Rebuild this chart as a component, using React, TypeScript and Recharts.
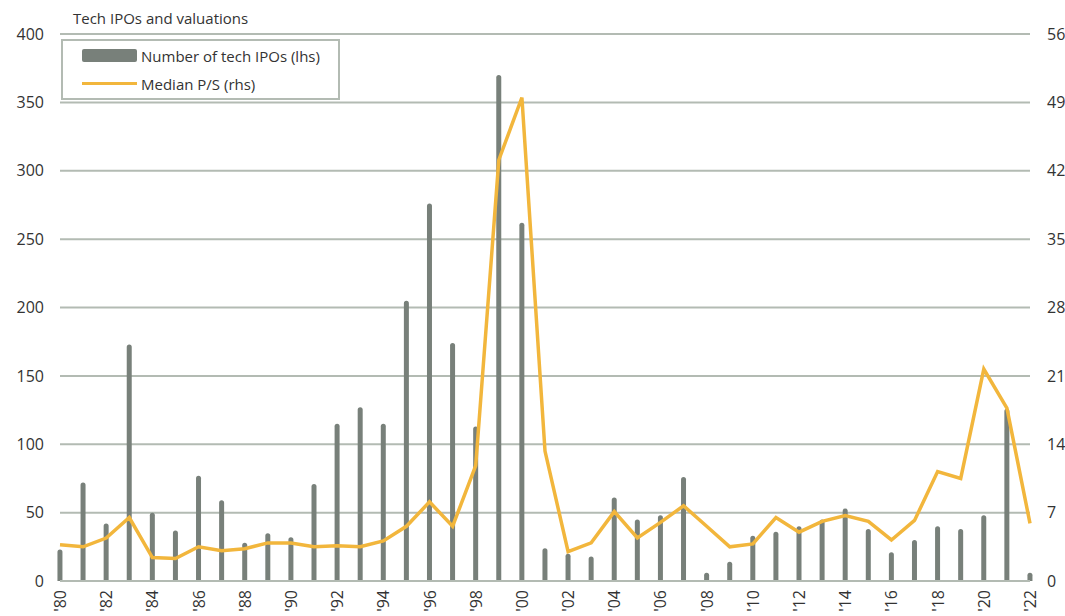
import { ComposedChart, Bar, Line, XAxis, YAxis, CartesianGrid } from 'recharts'

const years = [
  1980, 1981, 1982, 1983, 1984, 1985, 1986, 1987, 1988, 1989, 1990,
  1991, 1992, 1993, 1994, 1995, 1996, 1997, 1998, 1999, 2000, 2001,
  2002, 2003, 2004, 2005, 2006, 2007, 2008, 2009, 2010, 2011, 2012,
  2013, 2014, 2015, 2016, 2017, 2018, 2019, 2020, 2021, 2022,
]

// number of tech IPOs (left axis)
const ipoCounts = [
  23, 72, 42, 173, 50, 37, 77, 59, 28, 35, 32,
  71, 115, 127, 115, 205, 276, 174, 113, 370, 262, 24,
  20, 18, 61, 45, 48, 76, 6, 14, 33, 36, 40,
  45, 53, 38, 21, 30, 40, 38, 48, 126, 6,
]

// median price / sales (right axis)
const medianPS = [
  3.7, 3.5, 4.4, 6.5, 2.4, 2.3, 3.5, 3.1, 3.3, 3.9, 3.9,
  3.5, 3.6, 3.5, 4.1, 5.6, 8.1, 5.6, 11.8, 43.1, 49.5, 13.3,
  3.0, 3.9, 7.1, 4.4, 6.0, 7.7, 5.6, 3.5, 3.8, 6.5, 5.0,
  6.1, 6.7, 6.1, 4.2, 6.2, 11.2, 10.5, 21.7, 17.7, 5.9,
]

const leftTicks = [0, 50, 100, 150, 200, 250, 300, 350, 400]
const rightTicks = [0, 7, 14, 21, 28, 35, 42, 49, 56]
const xTicks = years.filter(y => y % 2 === 0)

const data = years.map((year, i) => ({ year, ipos: ipoCounts[i], ps: medianPS[i] }))

const FONT = '"Open Sans", Lato, sans-serif'
const BAR_COLOR = '#78807a'
const LINE_COLOR = '#f2b63c'
const GRID_COLOR = '#b3bbb3'
const TEXT_COLOR = '#333333'

function YearTick(props: any) {
  const { x, y, payload } = props
  const label = "'" + String(payload.value).slice(2)
  return (
    <text
      x={x}
      y={y}
      transform={`rotate(-90, ${x}, ${y})`}
      textAnchor="end"
      dominantBaseline="central"
      fill={TEXT_COLOR}
      fontSize={16}
      fontFamily={FONT}
    >
      {label}
    </text>
  )
}

function LegendBox() {
  return (
    <div
      style={{
        position: 'absolute',
        left: 61,
        top: 39,
        width: 279,
        height: 61,
        border: `2px solid ${GRID_COLOR}`,
        background: '#fff',
        fontFamily: FONT,
        fontSize: 15,
        color: TEXT_COLOR,
        boxSizing: 'border-box',
      }}
    >
      <div style={{ display: 'flex', alignItems: 'center', height: 27, marginTop: 1 }}>
        <span style={{ display: 'inline-block', width: 55, height: 13, background: BAR_COLOR, borderRadius: 2, marginLeft: 19, marginRight: 4 }} />
        <span>Number of tech IPOs (lhs)</span>
      </div>
      <div style={{ display: 'flex', alignItems: 'center', height: 29 }}>
        <span style={{ display: 'inline-block', width: 55, height: 3, background: LINE_COLOR, marginLeft: 19, marginRight: 4 }} />
        <span>Median P/S (rhs)</span>
      </div>
    </div>
  )
}

export default function App() {
  return (
    <div style={{ position: 'fixed', left: 0, top: 0, width: 1065, height: 616, background: '#fff' }}>
      <ComposedChart
        width={1065}
        height={616}
        data={data}
        margin={{ top: 34, right: 0, left: 0, bottom: 0 }}
      >
        <CartesianGrid yAxisId="left" vertical={false} stroke={GRID_COLOR} strokeWidth={2} />
        <XAxis
          dataKey="year"
          type="number"
          domain={[1980, 2022]}
          ticks={xTicks}
          interval={0}
          height={35}
          axisLine={{ stroke: GRID_COLOR, strokeWidth: 2 }}
          tickLine={false}
          tickMargin={3}
          tick={<YearTick />}
        />
        <YAxis
          yAxisId="left"
          width={60}
          domain={[0, 400]}
          ticks={leftTicks}
          axisLine={false}
          tickLine={false}
          tickMargin={10}
          tick={{ fill: TEXT_COLOR, fontSize: 16, fontFamily: FONT }}
        />
        <YAxis
          yAxisId="right"
          orientation="right"
          width={35}
          domain={[0, 56]}
          ticks={rightTicks}
          axisLine={false}
          tickLine={false}
          tickMargin={11}
          tick={{ fill: TEXT_COLOR, fontSize: 16, fontFamily: FONT, textAnchor: 'start' }}
        />
        <Bar
          yAxisId="left"
          dataKey="ipos"
          name="Number of tech IPOs (lhs)"
          fill={BAR_COLOR}
          barSize={5}
          radius={[2.5, 2.5, 0, 0]}
          isAnimationActive={false}
        />
        <Line
          yAxisId="right"
          type="linear"
          dataKey="ps"
          name="Median P/S (rhs)"
          stroke={LINE_COLOR}
          strokeWidth={3.5}
          dot={false}
          activeDot={false}
          isAnimationActive={false}
        />
      </ComposedChart>
      <div
        style={{
          position: 'absolute',
          left: 73,
          top: 8,
          fontFamily: FONT,
          fontSize: 15,
          color: TEXT_COLOR,
        }}
      >
        Tech IPOs and valuations
      </div>
      <LegendBox />
    </div>
  )
}
